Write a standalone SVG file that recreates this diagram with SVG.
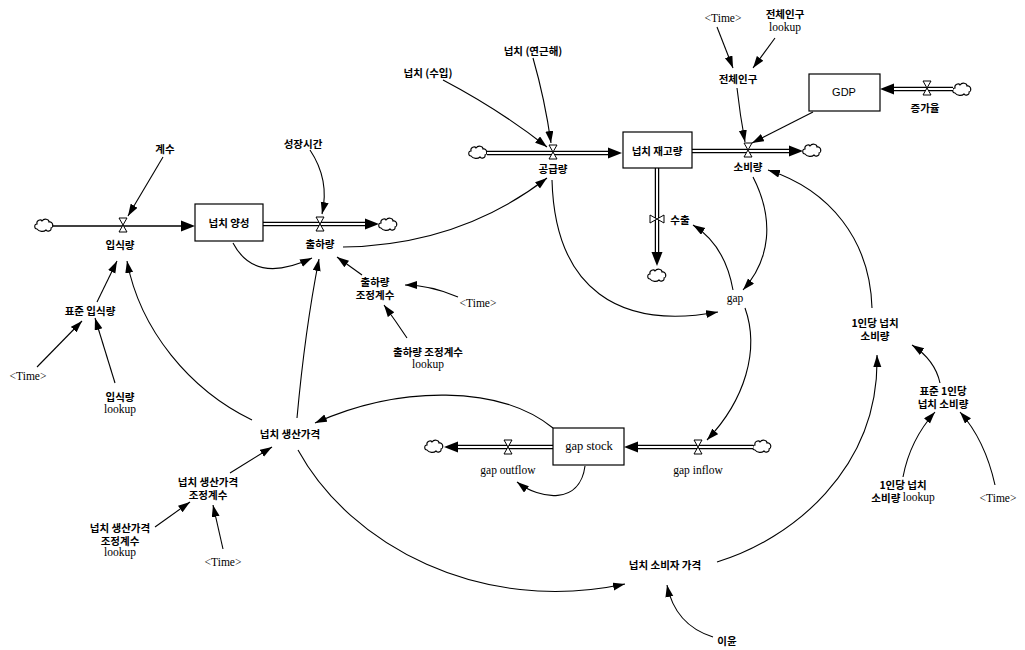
<svg xmlns="http://www.w3.org/2000/svg" width="1025" height="650" viewBox="0 0 1025 650">
<style>
text{font-family:"Liberation Serif","Noto Sans CJK KR",serif;font-size:11.5px;fill:#000;text-anchor:middle;dominant-baseline:central}
.k{font-family:"Noto Sans CJK KR","Liberation Sans",sans-serif;font-weight:bold;font-size:10.5px}
.l{font-family:"Liberation Serif",serif;font-weight:normal;font-size:11.5px}
.box{fill:#fff;stroke:#000;stroke-width:1.2}
.lnk{fill:none;stroke:#000;stroke-width:1.1;marker-end:url(#ah)}
.pipeo{fill:none;stroke:#000;stroke-width:4.5}
.pipei{fill:none;stroke:#fff;stroke-width:2}
.valve{fill:#fff;stroke:#000;stroke-width:1}
.cloud{fill:#fff;stroke:#000;stroke-width:1.1}
</style>
<defs>
<marker id="ah" markerUnits="userSpaceOnUse" markerWidth="13" markerHeight="9" refX="12" refY="4" orient="auto"><path d="M0,0 L12,4 L0,8 Z" fill="#000"/></marker>
<path id="pa" d="M-14,-5.5 L0,0 L-14,5.5 Z" fill="#000"/>
<path id="cl" class="cloud" d="M-7,4 C-10,4 -10,-1 -7,-1 C-8,-5 -3,-6 -2,-4 C0,-7 5,-6 5,-3 C9,-4 10,2 7,3 C8,6 3,7 2,5 C0,7 -5,7 -7,4 Z"/>
<path id="vv" class="valve" d="M-4,-7 L4,-7 L-4,7 L4,7 Z"/>
<path id="vh" class="valve" d="M-7,-4 L-7,4 L7,-4 L7,4 Z"/>
</defs>
<rect width="1025" height="650" fill="#fff"/>

<g id="connectors">
<path class="lnk" d="M163,157 L128,216"/>
<path class="lnk" d="M310,150 Q330,180 322,214"/>
<path class="lnk" d="M233,243 Q255,285 312,258"/>
<path class="lnk" d="M343,247 Q460,245 547,178"/>
<path class="lnk" d="M362,275 L337,257"/>
<path class="lnk" d="M458,297 Q430,285 405,285"/>
<path class="lnk" d="M407,338 Q395,320 384,305"/>
<path class="lnk" d="M97,302 L117,261"/>
<path class="lnk" d="M252,420 C190,390 140,330 127,261"/>
<path class="lnk" d="M297,418 Q305,330 319,259"/>
<path class="lnk" d="M37,367 L82,321"/>
<path class="lnk" d="M115,383 L95,318"/>
<path class="lnk" d="M443,80 Q500,110 547,147"/>
<path class="lnk" d="M533,58 Q545,100 551,143"/>
<path class="lnk" d="M717,27 L733,68"/>
<path class="lnk" d="M775,38 L753,68"/>
<path class="lnk" d="M737,88 Q740,115 745,142"/>
<path class="lnk" d="M813,112 L752,143"/>
<path class="lnk" d="M552,180 C555,290 620,330 718,312"/>
<path class="lnk" d="M753,177 C775,220 770,260 743,290"/>
<path class="lnk" d="M733,290 Q725,245 693,225"/>
<path class="lnk" d="M745,308 C760,350 745,400 707,440"/>
<path class="lnk" d="M553,428 C500,385 400,385 315,423"/>
<path class="lnk" d="M585,466 C580,505 540,500 517,482"/>
<path class="lnk" d="M230,473 L272,447"/>
<path class="lnk" d="M155,527 L190,502"/>
<path class="lnk" d="M223,549 L213,505"/>
<path class="lnk" d="M298,450 C350,545 480,615 625,584"/>
<path class="lnk" d="M717,562 C790,540 880,470 877,355"/>
<path class="lnk" d="M713,637 Q675,625 667,585"/>
<path class="lnk" d="M872,308 C870,240 830,190 768,170"/>
<path class="lnk" d="M940,383 Q935,360 912,345"/>
<path class="lnk" d="M903,477 Q910,440 935,412"/>
<path class="lnk" d="M995,485 Q985,440 960,412"/>
</g>

<g id="flows">
<g id="flow-ipsik">
<use href="#cl" x="44" y="225"/>
<line x1="53" y1="226" x2="183" y2="226" stroke="#000" stroke-width="1.6"/>
<use href="#pa" x="195" y="226"/>
<use href="#vv" x="123" y="225"/>
<text class="k" x="120" y="244">입식량</text>
</g>
<g id="flow-chulha">
<path class="pipeo" d="M263,224 L366,224"/><path class="pipei" d="M263,224 L366,224"/>
<use href="#pa" x="379" y="224"/>
<use href="#cl" x="388" y="224"/>
<use href="#vv" x="320" y="224"/>
<text class="k" x="320" y="243">출하량</text>
</g>
<g id="flow-gonggeup">
<use href="#cl" x="478" y="152"/>
<path class="pipeo" d="M487,153 L609,153"/><path class="pipei" d="M487,153 L609,153"/>
<use href="#pa" x="622" y="153"/>
<use href="#vv" x="553" y="152"/>
<text class="k" x="553" y="168">공급량</text>
</g>
<g id="flow-sobi">
<path class="pipeo" d="M692,151 L790,151"/><path class="pipei" d="M692,151 L790,151"/>
<use href="#pa" x="803" y="151"/>
<use href="#cl" x="812" y="150"/>
<use href="#vv" x="748" y="150"/>
<text class="k" x="748" y="166">소비량</text>
</g>
<g id="flow-suchul">
<path class="pipeo" d="M657,168 L657,253"/><path class="pipei" d="M657,168 L657,253"/>
<use href="#pa" transform="translate(657,266) rotate(90)"/>
<use href="#cl" x="657" y="275"/>
<use href="#vh" x="657" y="219"/>
<text class="k" x="680" y="219">수출</text>
</g>
<g id="flow-jeungga">
<use href="#cl" x="962" y="89"/>
<path class="pipeo" d="M953,89 L893,89"/><path class="pipei" d="M953,89 L893,89"/>
<use href="#pa" transform="translate(880,89) rotate(180)"/>
<use href="#vv" x="927" y="88"/>
<text class="k" x="925" y="107">증가율</text>
</g>
<g id="flow-gapin">
<use href="#cl" x="762" y="446"/>
<path class="pipeo" d="M753,447 L637,447"/><path class="pipei" d="M753,447 L637,447"/>
<use href="#pa" transform="translate(624,447) rotate(180)"/>
<use href="#vv" x="698" y="447"/>
<text x="698" y="470">gap inflow</text>
</g>
<g id="flow-gapout">
<path class="pipeo" d="M553,447 L457,447"/><path class="pipei" d="M553,447 L457,447"/>
<use href="#pa" transform="translate(444,447) rotate(180)"/>
<use href="#cl" x="434" y="446"/>
<use href="#vv" x="508" y="447"/>
<text x="508" y="470">gap outflow</text>
</g>
</g>

<g id="stock-yangseong"><rect class="box" x="195" y="204" width="68" height="37"/><text class="k" x="229" y="222">넙치 양성</text></g>
<g id="stock-jaego"><rect class="box" x="623" y="132" width="69" height="36"/><text class="k" x="657" y="150">넙치 재고량</text></g>
<g id="stock-gdp"><rect class="box" x="809" y="74" width="71" height="37"/><text x="844" y="92" style="font-family:'Liberation Sans',sans-serif;font-size:11px">GDP</text></g>
<g id="stock-gap"><rect class="box" x="553" y="428" width="71" height="37"/><text x="589" y="446" style="font-size:12.5px">gap stock</text></g>

<g id="v-gyesu"><text class="k" x="165" y="148">계수</text></g>
<g id="v-seongjang"><text class="k" x="303" y="143">성장시간</text></g>
<g id="v-suip"><text class="k" x="428" y="72">넙치 (수입)</text></g>
<g id="v-yeongeun"><text class="k" x="533" y="50">넙치 (연근해)</text></g>
<g id="v-time1"><text x="723" y="18">&lt;Time&gt;</text></g>
<g id="v-ingu-lookup"><text class="k" x="785" y="13">전체인구</text><text x="785" y="27">lookup</text></g>
<g id="v-ingu"><text class="k" x="738" y="78">전체인구</text></g>
<g id="v-gap"><text x="735" y="298">gap</text></g>
<g id="v-chulha-coef"><text class="k" x="375" y="281">출하량</text><text class="k" x="375" y="294">조정계수</text></g>
<g id="v-time2"><text x="478" y="303">&lt;Time&gt;</text></g>
<g id="v-chulha-lookup"><text class="k" x="428" y="351">출하량 조정계수</text><text x="428" y="364">lookup</text></g>
<g id="v-pyojun-ipsik"><text class="k" x="90" y="310">표준 입식량</text></g>
<g id="v-time3"><text x="28" y="376">&lt;Time&gt;</text></g>
<g id="v-ipsik-lookup"><text class="k" x="120" y="396">입식량</text><text x="120" y="409">lookup</text></g>
<g id="v-saengsan"><text class="k" x="290" y="433">넙치 생산가격</text></g>
<g id="v-saengsan-coef"><text class="k" x="208" y="481">넙치 생산가격</text><text class="k" x="208" y="494">조정계수</text></g>
<g id="v-saengsan-lookup"><text class="k" x="120" y="527">넙치 생산가격</text><text class="k" x="120" y="540">조정계수</text><text x="120" y="552">lookup</text></g>
<g id="v-time4"><text x="223" y="562">&lt;Time&gt;</text></g>
<g id="v-percap"><text class="k" x="875" y="322">1인당 넙치</text><text class="k" x="875" y="335">소비량</text></g>
<g id="v-pyojun-percap"><text class="k" x="943" y="390">표준 1인당</text><text class="k" x="943" y="403">넙치 소비량</text></g>
<g id="v-percap-lookup"><text class="k" x="903" y="484">1인당 넙치</text><text class="k" x="903" y="497">소비량 <tspan class="l">lookup</tspan></text></g>
<g id="v-time5"><text x="998" y="498">&lt;Time&gt;</text></g>
<g id="v-sobija"><text class="k" x="665" y="564">넙치 소비자 가격</text></g>
<g id="v-iyun"><text class="k" x="727" y="640">이윤</text></g>
</svg>
